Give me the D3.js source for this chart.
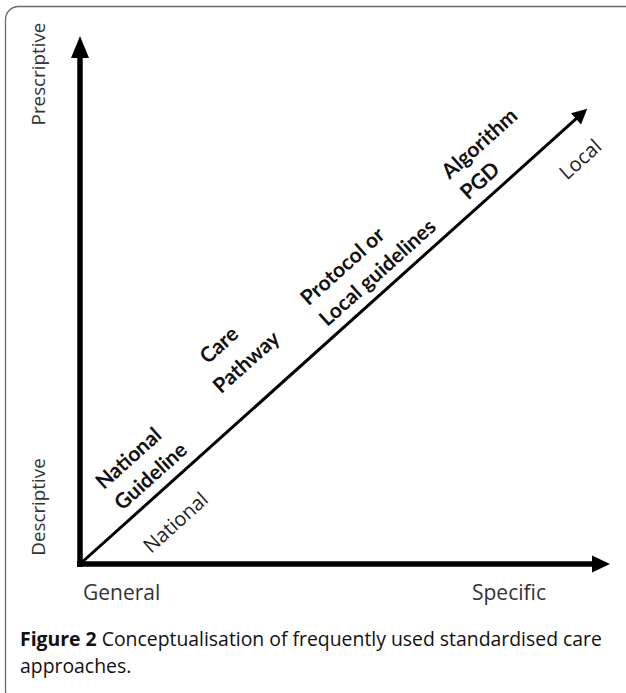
<!DOCTYPE html>
<html>
<head>
<meta charset="utf-8">
<script src="https://cdn.jsdelivr.net/npm/d3@7"></script>
<style>
  html, body { margin: 0; padding: 0; background: #fff; }
  svg { display: block; }
</style>
</head>
<body>
<svg id="chart" width="626" height="693"></svg>
<script>
// ---- data ----
const xAxisLabels = ["General", "Specific"];
const yAxisLabels = ["Descriptive", "Prescriptive"];
// approaches placed along the diagonal (0 = general/descriptive, 1 = arrow tip)
const approachNames = [["National", "Guideline"], ["Care", "Pathway"], ["Protocol or", "Local guidelines"], ["Algorithm", "PGD"]];
const approachPositions = [0.098, 0.32, 0.502, 0.78];
const levelNames = ["National", "Local"];
const levelPositions = [0.145, 0.943];
const diagonalEnd = [0.957, 0.862]; // [specificity, prescriptiveness] of diagonal arrow tip
const captionBold = "Figure 2";
const captionLines = ["Conceptualisation of frequently used standardised care", "approaches"];

// ---- layout ----
const svg = d3.select("#chart");
const x = d3.scaleLinear().domain([0, 1]).range([80, 610]);
const y = d3.scaleLinear().domain([0, 1]).range([564, 36]);
const approachGap = [11, 32, 11, 11];     // label distance above the diagonal (px)
const approachIndent = [0, 10, 0, 0];     // first-line indent (px)
const approachLead = [28, 31, 28, 28];    // line spacing (px)

// frame
svg.append("rect")
  .attr("x", 5.5).attr("y", 6.5).attr("width", 640).attr("height", 697)
  .attr("rx", 13).attr("ry", 13)
  .attr("fill", "none").attr("stroke", "#6a6a6a").attr("stroke-width", 1.3);

const ox = x(0), oy = y(0);

// vertical axis
const headLen = 22, headHalf = 9;
svg.append("line")
  .attr("x1", ox).attr("y1", oy + 3).attr("x2", ox).attr("y2", y(1) + headLen - 1)
  .attr("stroke", "#000").attr("stroke-width", 5.5);
svg.append("path")
  .attr("d", `M${ox},${y(1)} L${ox + headHalf},${y(1) + headLen} L${ox - headHalf},${y(1) + headLen} Z`)
  .attr("fill", "#000");

// horizontal axis
svg.append("line")
  .attr("x1", ox - 3).attr("y1", oy).attr("x2", x(1) - 17).attr("y2", oy)
  .attr("stroke", "#000").attr("stroke-width", 5.5);
svg.append("path")
  .attr("d", `M${x(1)},${oy} L${x(1) - 18},${oy - 8.5} L${x(1) - 18},${oy + 8.5} Z`)
  .attr("fill", "#000");

// diagonal
const ex = x(diagonalEnd[0]), ey = y(diagonalEnd[1]);
const dx = ex - ox, dy = ey - oy;
const len = Math.hypot(dx, dy);
const ux = dx / len, uy = dy / len;
const angle = Math.atan2(dy, dx) * 180 / Math.PI;
const dHead = 15, dHalf = 7.5;
svg.append("line")
  .attr("x1", ox).attr("y1", oy).attr("x2", ex - ux * (dHead - 1)).attr("y2", ey - uy * (dHead - 1))
  .attr("stroke", "#000").attr("stroke-width", 3);
const bx = ex - ux * dHead, by = ey - uy * dHead;
svg.append("path")
  .attr("d", `M${ex},${ey} L${bx - uy * dHalf},${by + ux * dHalf} L${bx + uy * dHalf},${by - ux * dHalf} Z`)
  .attr("fill", "#000");

const along = v => [ox + dx * v, oy + dy * v];

// approach labels (bold, two lines above the diagonal)
const approaches = svg.append("g").selectAll("g")
  .data(approachNames.map((lines, i) => ({ lines, pos: approachPositions[i], i })))
  .join("g")
  .attr("transform", d => { const p = along(d.pos); return `translate(${p[0]},${p[1]}) rotate(${angle})`; });
approaches.selectAll("text")
  .data(d => d.lines.map((t, j) => ({ t, j, n: d.lines.length, i: d.i })))
  .join("text")
  .attr("x", d => d.j === 0 ? approachIndent[d.i] : 0)
  .attr("y", d => -approachGap[d.i] - (d.n - 1 - d.j) * approachLead[d.i])
  .attr("font-family", "Lato, 'Open Sans', sans-serif")
  .attr("font-weight", 700)
  .attr("font-size", 21)
  .attr("fill", "#111")
  .text(d => d.t);

// level labels below the diagonal
svg.append("g").selectAll("text")
  .data(levelNames.map((t, i) => ({ t, pos: levelPositions[i] })))
  .join("text")
  .attr("transform", d => { const p = along(d.pos); return `translate(${p[0]},${p[1]}) rotate(${angle})`; })
  .attr("x", 0).attr("y", 40)
  .attr("text-anchor", "middle")
  .attr("font-family", "'Open Sans', sans-serif")
  .attr("font-size", 20)
  .attr("fill", "#222")
  .text(d => d.t);

// x axis labels
svg.append("g").selectAll("text")
  .data(xAxisLabels)
  .join("text")
  .attr("x", (d, i) => i === 0 ? 83 : 472)
  .attr("y", 600)
  .attr("font-family", "'Open Sans', sans-serif")
  .attr("font-size", 21)
  .attr("fill", "#333")
  .text(d => d);

// y axis labels (rotated)
svg.append("g").selectAll("text")
  .data(yAxisLabels)
  .join("text")
  .attr("transform", (d, i) => `translate(45,${i === 0 ? 507 : 74}) rotate(-90)`)
  .attr("text-anchor", "middle")
  .attr("font-family", "'Open Sans', sans-serif")
  .attr("font-size", 18.8)
  .attr("fill", "#333")
  .text(d => d);

// caption
const cap1 = svg.append("text")
  .attr("x", 20).attr("y", 646)
  .attr("font-family", "'Open Sans', sans-serif")
  .attr("font-size", 19.4)
  .attr("fill", "#111");
cap1.append("tspan").attr("font-weight", 700).text(captionBold + " ");
cap1.append("tspan").attr("font-weight", 500).text(captionLines[0]);
const cap2 = svg.append("text")
  .attr("x", 20).attr("y", 673)
  .attr("font-family", "'Open Sans', sans-serif")
  .attr("font-size", 19.4)
  .attr("fill", "#111");
cap2.append("tspan").attr("font-weight", 500).text(captionLines[1]);
cap2.append("tspan").attr("font-weight", 400).text(".");
</script>
</body>
</html>
